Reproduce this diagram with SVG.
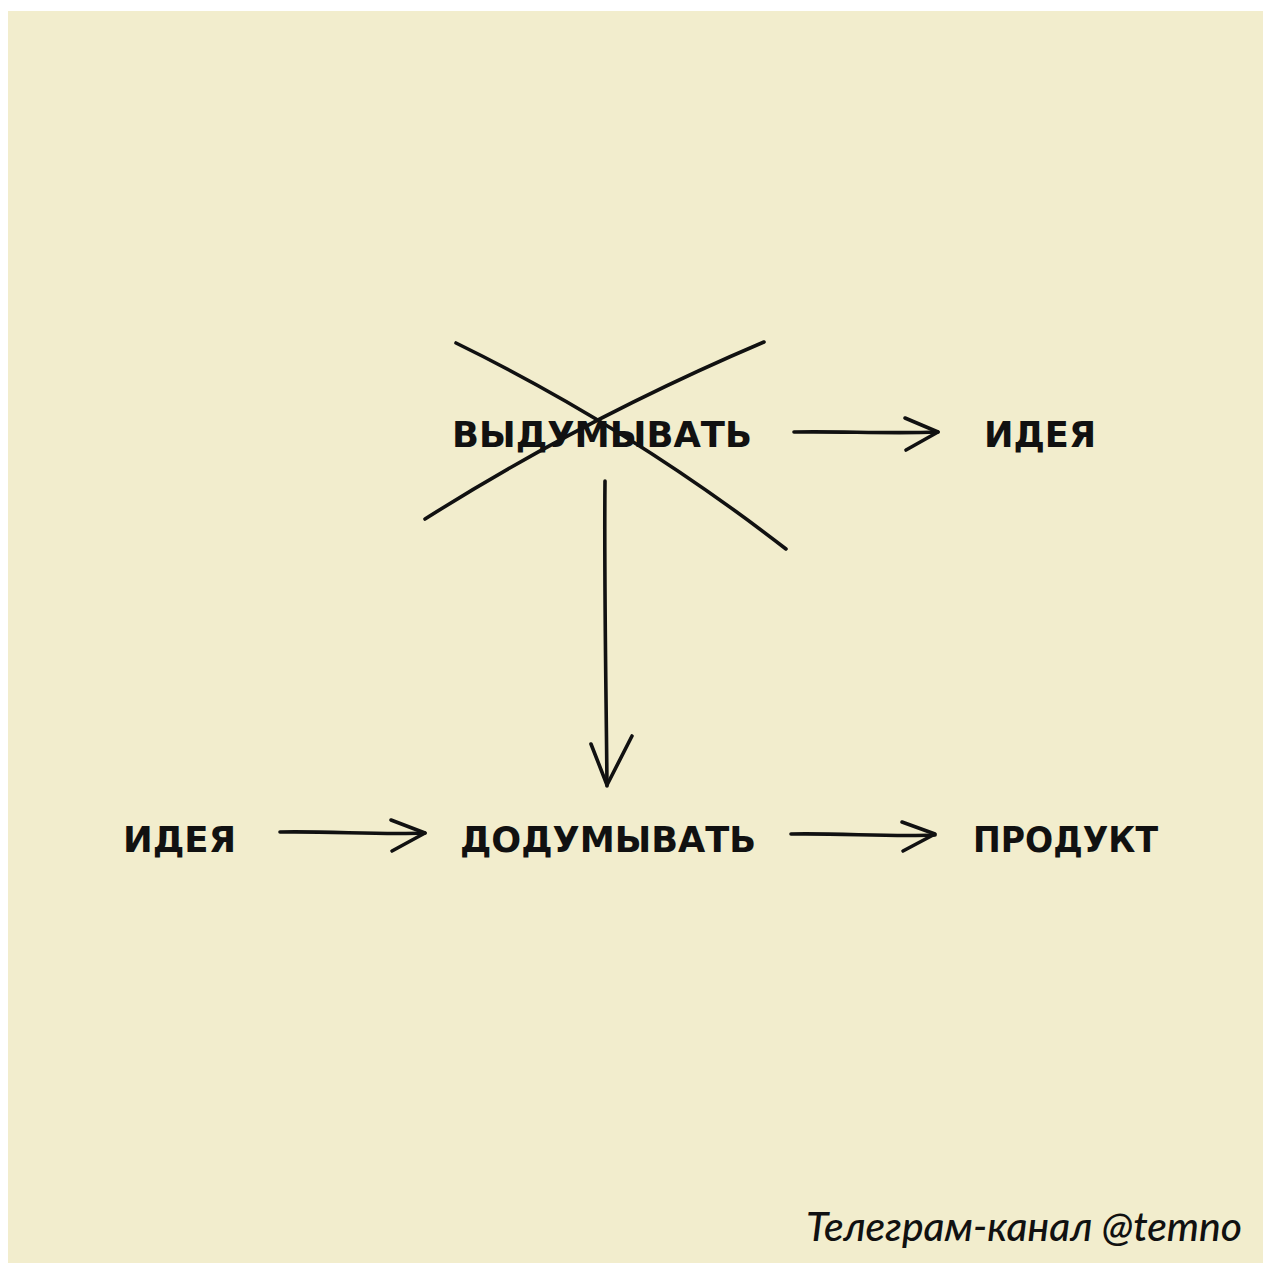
<svg xmlns="http://www.w3.org/2000/svg" width="1263" height="1273" viewBox="0 0 1263 1273">
<style>
.hand{font-family:"DejaVu Sans","Liberation Sans",sans-serif;font-weight:bold;font-size:36px;fill:#111;}
.ln{fill:none;stroke:#111;stroke-width:3.6;stroke-linecap:round;stroke-linejoin:round;}
.foot{font-family:Lato,"Open Sans","Liberation Sans",sans-serif;font-style:italic;font-weight:500;font-size:40px;fill:#111;}
</style>
<rect x="0" y="0" width="1263" height="1273" fill="#ffffff"/>
<rect x="8" y="11" width="1255" height="1252" fill="#F2EDCD"/>
<g id="connectors">
<path class="ln" d="M456,343 Q630,428 786,549"/>
<path class="ln" d="M764,342 Q585,418 425,519"/>
<path class="ln" d="M794,432 C840,431 890,434 938,432"/>
<path class="ln" d="M905,418 L938,432 L906,450"/>
<path class="ln" d="M280,832 C330,831 380,835 425,833"/>
<path class="ln" d="M391,820 L425,833 L392,851"/>
<path class="ln" d="M791,834 C840,833 890,837 935,835"/>
<path class="ln" d="M902,822 L935,834 L903,851"/>
<path class="ln" d="M605,481 C604,580 606,680 607,786"/>
<path class="ln" d="M591,744 L607,785 L632,736"/>
</g>
<g id="node-vydumyvat"><text class="hand" x="452" y="447" textLength="300" lengthAdjust="spacingAndGlyphs">ВЫДУМЫВАТЬ</text></g>
<g id="node-ideya-top"><text class="hand" x="984" y="447" textLength="112" lengthAdjust="spacingAndGlyphs">ИДЕЯ</text></g>
<g id="node-ideya-left"><text class="hand" x="123" y="852" textLength="113" lengthAdjust="spacingAndGlyphs">ИДЕЯ</text></g>
<g id="node-dodumyvat"><text class="hand" x="460" y="852" textLength="296" lengthAdjust="spacingAndGlyphs">ДОДУМЫВАТЬ</text></g>
<g id="node-produkt"><text class="hand" x="973" y="852" textLength="185" lengthAdjust="spacingAndGlyphs">ПРОДУКТ</text></g>
<text class="foot" x="806" y="1241" textLength="436" lengthAdjust="spacingAndGlyphs">Телеграм-канал @temno</text>
</svg>
